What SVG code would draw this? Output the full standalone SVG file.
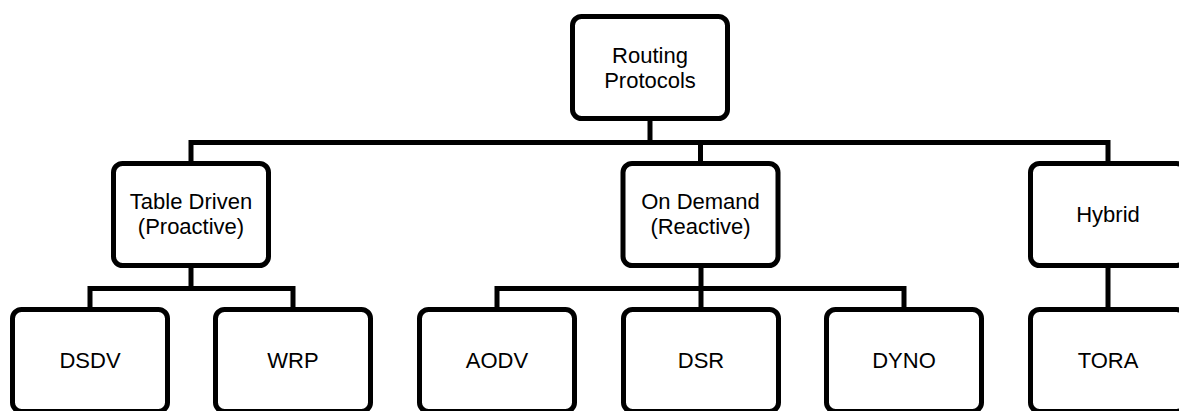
<svg xmlns="http://www.w3.org/2000/svg" width="1179" height="411" viewBox="0 0 1179 411">
<style>
.box{fill:#fff;stroke:#000;stroke-width:5}
.conn{fill:none;stroke:#000;stroke-width:5;stroke-linejoin:miter;stroke-linecap:butt}
text{font-family:"Liberation Sans",Arial,sans-serif;font-size:22px;fill:#000;text-anchor:middle}
</style>
<rect width="1179" height="411" fill="#fff"/>
<g id="connectors">
<path class="conn" d="M650,120 V142.5"/>
<path class="conn" d="M191,164 V142.5 H1108 V164"/>
<path class="conn" d="M700.5,142.5 V164"/>
<path class="conn" d="M191,267 V288.5"/>
<path class="conn" d="M90,310 V288.5 H293 V310"/>
<path class="conn" d="M701,267 V310"/>
<path class="conn" d="M497,310 V288.5 H904 V310"/>
<path class="conn" d="M1108,267 V310"/>
</g>
<g id="node-routing">
<rect class="box" x="572.5" y="16.5" width="155" height="102" rx="9"/>
<text x="650" y="63">Routing</text>
<text x="650" y="88">Protocols</text>
</g>
<g id="node-table">
<rect class="box" x="113.5" y="163.5" width="155" height="102" rx="9"/>
<text x="191" y="209">Table Driven</text>
<text x="191" y="234">(Proactive)</text>
</g>
<g id="node-ondemand">
<rect class="box" x="623" y="163.5" width="155" height="102" rx="9"/>
<text x="700.5" y="209">On Demand</text>
<text x="700.5" y="234">(Reactive)</text>
</g>
<g id="node-hybrid">
<rect class="box" x="1030.5" y="163.5" width="155" height="102" rx="9"/>
<text x="1108" y="222">Hybrid</text>
</g>
<g id="node-dsdv">
<rect class="box" x="12.5" y="309.5" width="155" height="102" rx="9"/>
<text x="90" y="368">DSDV</text>
</g>
<g id="node-wrp">
<rect class="box" x="215.5" y="309.5" width="155" height="102" rx="9"/>
<text x="293" y="368">WRP</text>
</g>
<g id="node-aodv">
<rect class="box" x="419.5" y="309.5" width="155" height="102" rx="9"/>
<text x="497" y="368">AODV</text>
</g>
<g id="node-dsr">
<rect class="box" x="623.5" y="309.5" width="155" height="102" rx="9"/>
<text x="701" y="368">DSR</text>
</g>
<g id="node-dyno">
<rect class="box" x="826.5" y="309.5" width="155" height="102" rx="9"/>
<text x="904" y="368">DYNO</text>
</g>
<g id="node-tora">
<rect class="box" x="1030.5" y="309.5" width="155" height="102" rx="9"/>
<text x="1108" y="368">TORA</text>
</g>
</svg>
